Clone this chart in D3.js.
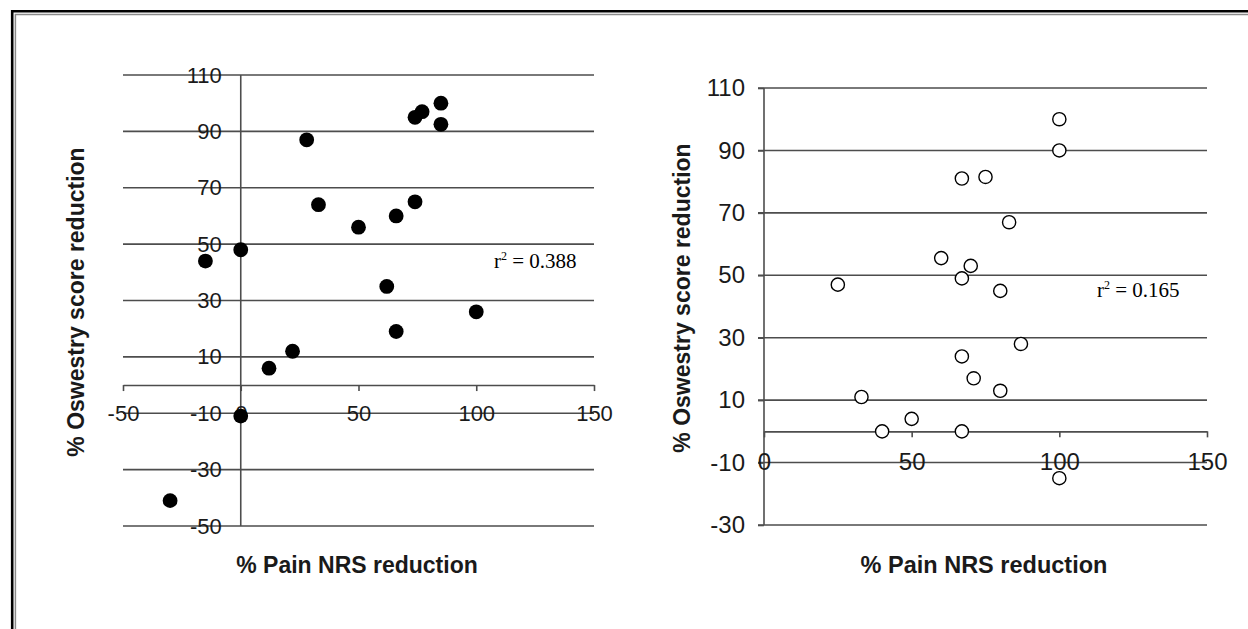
<!DOCTYPE html>
<html>
<head>
<meta charset="utf-8">
<script src="https://cdn.jsdelivr.net/npm/d3@7"></script>
<style>
  body { margin: 0; background: #fff; }
  svg { display: block; }
</style>
</head>
<body>
<div id="chart"></div>
<script>
// left panel: all patients
const leftPain = [-15, 0, 28, 33, 50, 62, 66, 74, 74, 77, 85, 85, 100, 66, 22, 12, 0, -30];
const leftOswestry = [44, 48, 87, 64, 56, 35, 60, 65, 95, 97, 100, 92.5, 26, 19, 12, 6, -11, -41];
const leftXTicks = [-50, 0, 50, 100, 150];
const leftYTicks = [110, 90, 70, 50, 30, 10, -10, -30, -50];
const leftR2 = "0.388";

// right panel
const rightPain = [100, 100, 67, 75, 83, 60, 70, 67, 80, 25, 87, 67, 71, 80, 33, 50, 40, 67, 100];
const rightOswestry = [100, 90, 81, 81.5, 67, 55.5, 53, 49, 45, 47, 28, 24, 17, 13, 11, 4, 0, 0, -15];
const rightXTicks = [0, 50, 100, 150];
const rightYTicks = [110, 90, 70, 50, 30, 10, -10, -30];
const rightR2 = "0.165";

const xTitle = "% Pain NRS reduction";
const yTitle = "% Oswestry score reduction";

const svg = d3
  .select("#chart")
  .append("svg")
  .attr("width", 1248)
  .attr("height", 629);

// double frame line (top and left)
svg.append("path")
  .attr("d", "M12.2,629 V11.2 H1248")
  .attr("fill", "none")
  .attr("stroke", "#000")
  .attr("stroke-width", 2.6);
svg.append("path")
  .attr("d", "M15.4,629 V14.6 H1248")
  .attr("fill", "none")
  .attr("stroke", "#8a8a8a")
  .attr("stroke-width", 1.5);

const drawPanel = (p) => {
  const g = svg.append("g");
  const x = d3.scaleLinear().domain(p.xDomain).range(p.xRange);
  const y = d3.scaleLinear().domain(p.yDomain).range(p.yRange);

  // gridlines
  g.append("g")
    .selectAll("line")
    .data(p.yTicks)
    .join("line")
    .attr("x1", p.gridLeft)
    .attr("x2", x(p.xDomain[1]))
    .attr("y1", (d) => y(d))
    .attr("y2", (d) => y(d))
    .attr("stroke", "#4d4d4d")
    .attr("stroke-width", 1.6);

  // y axis, sits at x = 0
  const yAxis = g.append("g")
    .attr("transform", `translate(${x(0)},0)`)
    .call(
      d3.axisLeft(y)
        .tickValues(p.yTicks)
        .tickFormat((d) => String(d))
        .tickSize(p.yTickSize)
        .tickSizeOuter(0)
        .tickPadding(p.yPad)
    );
  yAxis.select(".domain").remove();
  yAxis.append("line")
    .attr("y1", y(p.yDomain[0]))
    .attr("y2", y(p.yDomain[1]))
    .attr("stroke", "#4d4d4d")
    .attr("stroke-width", 1.6);

  // x axis, sits at y = 0
  const xAxis = g.append("g")
    .attr("transform", `translate(0,${y(0)})`)
    .call(
      d3.axisBottom(x)
        .tickValues(p.xTicks)
        .tickFormat((d) => String(d))
        .tickSize(6)
        .tickSizeOuter(0)
        .tickPadding(p.xPad)
    );

  [xAxis, yAxis].forEach((a) => {
    a.attr("font-family", "Arial, 'Liberation Sans', sans-serif")
      .attr("font-size", p.tickFont)
      .attr("color", "#4d4d4d");
    a.selectAll("line").attr("stroke-width", 1.6);
    a.select(".domain").attr("stroke-width", 1.6);
    a.selectAll("text").attr("fill", "#1a1a1a");
  });

  // points
  g.append("g")
    .selectAll("circle")
    .data(p.xs.map((d, i) => [d, p.ys[i]]))
    .join("circle")
    .attr("cx", (d) => x(d[0]))
    .attr("cy", (d) => y(d[1]))
    .attr("r", p.filled ? 7.4 : 6.6)
    .attr("fill", p.filled ? "#000" : "#fff")
    .attr("stroke", "#000")
    .attr("stroke-width", p.filled ? 0 : 1.4);

  // r squared
  const r2 = g.append("text")
    .attr("x", p.r2x)
    .attr("y", p.r2y)
    .attr("font-family", "'Liberation Serif', 'Times New Roman', serif")
    .attr("font-size", 21)
    .attr("fill", "#000");
  r2.append("tspan").text("r");
  r2.append("tspan").attr("font-size", 12).attr("dy", -8).text("2");
  r2.append("tspan").attr("dy", 8).text(" = " + p.r2);

  // axis titles
  g.append("text")
    .attr("x", p.xTitleX)
    .attr("y", 573)
    .attr("text-anchor", "middle")
    .attr("font-family", "Arial, 'Liberation Sans', sans-serif")
    .attr("font-weight", "bold")
    .attr("font-size", p.titleFont)
    .attr("fill", "#1a1a1a")
    .text(xTitle);

  g.append("text")
    .attr("transform", `translate(${p.yTitleX},${p.yTitleY}) rotate(-90)`)
    .attr("text-anchor", "middle")
    .attr("font-family", "Arial, 'Liberation Sans', sans-serif")
    .attr("font-weight", "bold")
    .attr("font-size", 23)
    .attr("fill", "#1a1a1a")
    .text(yTitle);
};

drawPanel({
  xs: leftPain, ys: leftOswestry, filled: true,
  xTicks: leftXTicks, yTicks: leftYTicks, r2: leftR2,
  xDomain: [-50, 150], yDomain: [-50, 110],
  xRange: [123, 594], yRange: [526, 75],
  gridLeft: 123, yTickSize: 0, yPad: 19, xPad: 14, tickFont: 22,
  r2x: 494, r2y: 268,
  xTitleX: 357, titleFont: 23, yTitleX: 84, yTitleY: 302,
});

drawPanel({
  xs: rightPain, ys: rightOswestry, filled: false,
  xTicks: rightXTicks, yTicks: rightYTicks, r2: rightR2,
  xDomain: [0, 150], yDomain: [-30, 110],
  xRange: [764, 1207], yRange: [525, 88],
  gridLeft: 758, yTickSize: 6, yPad: 13, xPad: 16, tickFont: 24,
  r2x: 1097, r2y: 297,
  xTitleX: 984, titleFont: 23.5, yTitleX: 690, yTitleY: 298,
});
</script>
</body>
</html>
